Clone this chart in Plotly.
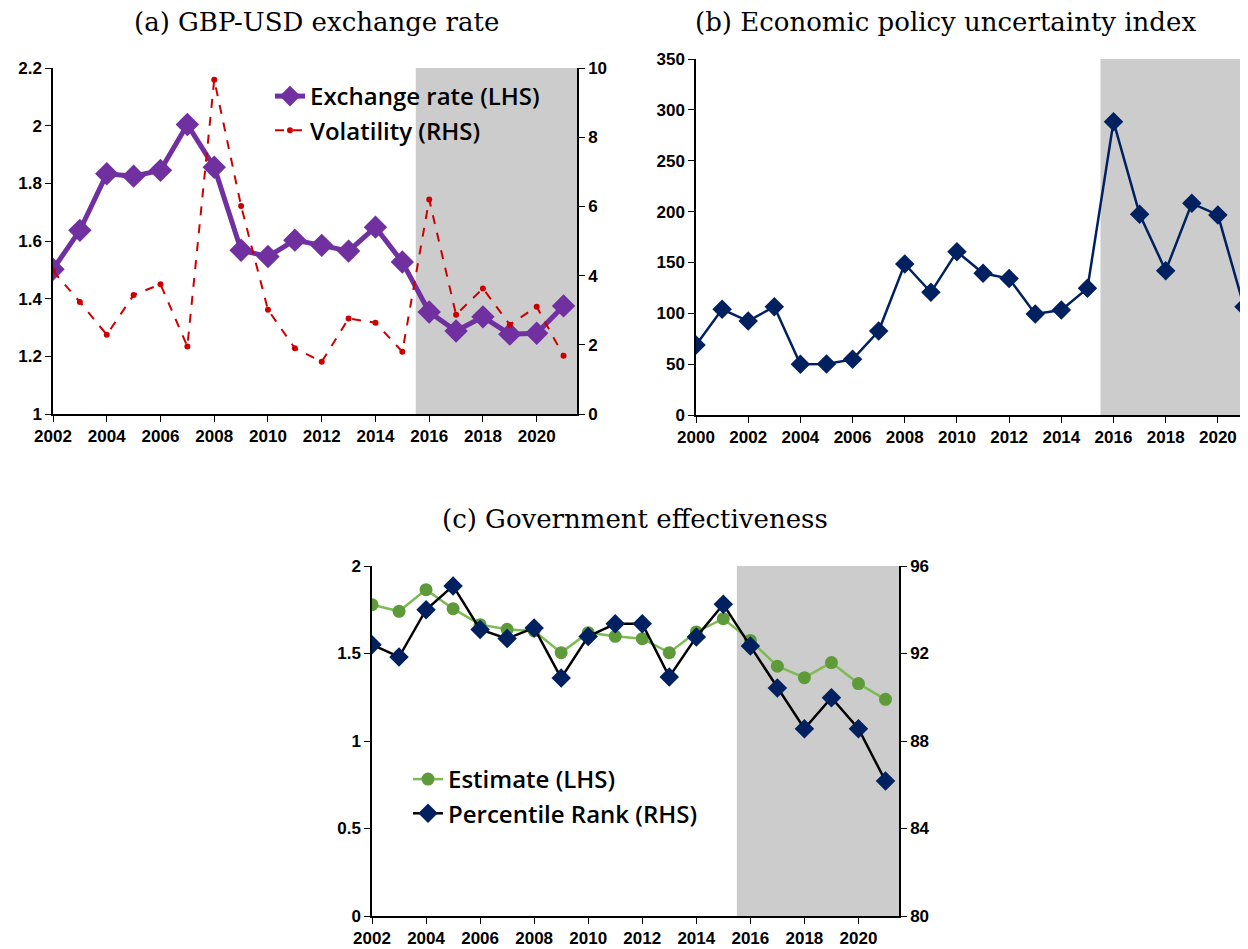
import plotly.graph_objects as go

# ---------------- data ----------------
years_a = list(range(2002, 2022))
exchange_rate = [1.502, 1.637, 1.833, 1.825, 1.845, 2.004, 1.856, 1.568, 1.546, 1.603,
                 1.585, 1.565, 1.648, 1.527, 1.354, 1.288, 1.337, 1.277, 1.280, 1.375]
volatility = [4.13, 3.24, 2.29, 3.44, 3.75, 1.95, 9.66, 6.01, 3.01, 1.90,
              1.51, 2.76, 2.64, 1.80, 6.20, 2.87, 3.63, 2.58, 3.10, 1.68]

years_b = list(range(2000, 2022))
epu = [68.8, 103.9, 92.4, 106.5, 49.8, 50.1, 54.7, 82.6, 148.5, 120.6, 160.6,
       139.3, 134.1, 99.3, 103.2, 124.5, 288.4, 197.3, 141.9, 208.1, 196.7, 106.5]

years_c = list(range(2002, 2022))
estimate = [1.779, 1.741, 1.865, 1.756, 1.665, 1.638, 1.629, 1.505, 1.619, 1.598,
            1.585, 1.505, 1.623, 1.699, 1.575, 1.427, 1.362, 1.448, 1.328, 1.238]
pct_rank = [92.40, 91.84, 94.00, 95.09, 93.10, 92.68, 93.17, 90.88, 92.78, 93.36,
            93.36, 90.93, 92.75, 94.25, 92.34, 90.42, 88.56, 89.98, 88.56, 86.17]

ticks_a = list(range(2002, 2021, 2))
ticks_b = list(range(2000, 2021, 2))
ticks_c = list(range(2002, 2021, 2))

shade_start = 2015.5
x_end_a = 2021.5
x_end_b = 2021
x_end_c = 2021.5

titles = ["(a) GBP-USD exchange rate", "(b) Economic policy uncertainty index",
          "(c) Government effectiveness"]

# ---------------- styling ----------------
W, H = 1248, 949
OFF = 8  # page body margin offset

def px(x):
    return (x - OFF) / W

def py(y):
    return 1 - (y - OFF) / H

PURPLE = "#7030A0"
RED = "#CC0000"
NAVY = "#002060"
GREEN_M = "#5E9A3A"
GREEN_L = "#7DBB55"
GREY = "#CCCCCC"

tickfont = dict(family="Liberation Sans, Arial", size=17, color="black", weight="bold")
legfont = dict(family="Open Sans", size=24, color="black", weight=600)
titlefont = dict(family="DejaVu Serif", size=26, color="black")

def xax(domain, anchor, rng, ticks):
    return dict(domain=domain, anchor=anchor, range=rng, tickvals=ticks,
                ticktext=[str(t) for t in ticks], showline=True, linecolor="black",
                linewidth=1.5, ticks="outside", ticklen=6, tickcolor="black",
                showgrid=False, zeroline=False, tickfont=tickfont, fixedrange=True,
                automargin=False)

def yax(domain, anchor, rng, dtick, side="left", overlaying=None):
    d = dict(domain=domain, anchor=anchor, range=rng, dtick=dtick, tick0=rng[0],
             showline=True, linecolor="black", linewidth=1.5, ticks="outside",
             ticklen=6, tickcolor="black", showgrid=False, zeroline=False,
             tickfont=tickfont, side=side, fixedrange=True, automargin=False)
    if overlaying:
        d["overlaying"] = overlaying
    return d

fig = go.Figure()

# Panel (a)
fig.add_trace(go.Scatter(x=years_a, y=exchange_rate, name="Exchange rate (LHS)",
                         mode="lines+markers", xaxis="x", yaxis="y",
                         line=dict(color=PURPLE, width=5),
                         marker=dict(symbol="diamond", size=18, color=PURPLE),
                         legend="legend"))
fig.add_trace(go.Scatter(x=years_a, y=volatility, name="Volatility (RHS)",
                         mode="lines+markers", xaxis="x", yaxis="y2",
                         line=dict(color=RED, width=2, dash="dash"),
                         marker=dict(symbol="circle", size=6, color=RED),
                         legend="legend"))

# Panel (b)
fig.add_trace(go.Scatter(x=years_b, y=epu, name="EPU", mode="lines+markers",
                         xaxis="x2", yaxis="y3", showlegend=False,
                         line=dict(color=NAVY, width=2.5),
                         marker=dict(symbol="diamond", size=15, color=NAVY)))

# Panel (c)
fig.add_trace(go.Scatter(x=years_c, y=estimate, name="Estimate (LHS)",
                         mode="lines+markers", xaxis="x3", yaxis="y4",
                         line=dict(color=GREEN_L, width=2.5),
                         marker=dict(symbol="circle", size=13, color=GREEN_M),
                         legend="legend2"))
fig.add_trace(go.Scatter(x=years_c, y=pct_rank, name="Percentile Rank (RHS)",
                         mode="lines+markers", xaxis="x3", yaxis="y5",
                         line=dict(color="black", width=2.5),
                         marker=dict(symbol="diamond", size=15, color=NAVY),
                         legend="legend2"))

dom_a_x = [px(53), px(577)]
dom_a_y = [py(414), py(68)]
dom_b_x = [px(696), px(1244)]
dom_b_y = [py(415), py(59)]
dom_c_x = [px(372), px(899)]
dom_c_y = [py(916), py(566)]

shapes = [
    dict(type="rect", xref="x", yref="y domain", x0=shade_start, x1=x_end_a, y0=0, y1=1,
         fillcolor=GREY, line=dict(width=0), layer="below"),
    dict(type="rect", xref="x2", yref="y3 domain", x0=shade_start, x1=x_end_b, y0=0, y1=1,
         fillcolor=GREY, line=dict(width=0), layer="below"),
    dict(type="rect", xref="x3", yref="y4 domain", x0=shade_start, x1=x_end_c, y0=0, y1=1,
         fillcolor=GREY, line=dict(width=0), layer="below"),
]

annotations = [
    dict(text=titles[0], x=px(316), y=py(22), xref="paper", yref="paper",
         showarrow=False, font=titlefont, xanchor="center", yanchor="middle"),
    dict(text=titles[1], x=px(945), y=py(22), xref="paper", yref="paper",
         showarrow=False, font=titlefont, xanchor="center", yanchor="middle"),
    dict(text=titles[2], x=px(635), y=py(519), xref="paper", yref="paper",
         showarrow=False, font=titlefont, xanchor="center", yanchor="middle"),
]

fig.update_layout(
    width=W, height=H, margin=dict(l=0, r=0, t=0, b=0, autoexpand=False),
    paper_bgcolor="white", plot_bgcolor="white",
    xaxis=xax(dom_a_x, "y", [2002, x_end_a], ticks_a),
    yaxis=yax(dom_a_y, "x", [1, 2.2], 0.2),
    yaxis2=yax(dom_a_y, "x", [0, 10], 2, side="right", overlaying="y"),
    xaxis2=xax(dom_b_x, "y3", [2000, x_end_b], ticks_b),
    yaxis3=yax(dom_b_y, "x2", [0, 350], 50),
    xaxis3=xax(dom_c_x, "y4", [2002, x_end_c], ticks_c),
    yaxis4=yax(dom_c_y, "x3", [0, 2], 0.5),
    yaxis5=yax(dom_c_y, "x3", [80, 96], 4, side="right", overlaying="y4"),
    shapes=shapes, annotations=annotations,
    legend=dict(x=px(270), y=py(74), xanchor="left", yanchor="top",
                bgcolor="rgba(0,0,0,0)", font=legfont, tracegroupgap=0,
                itemwidth=30),
    legend2=dict(x=px(408), y=py(757), xanchor="left", yanchor="top",
                 bgcolor="rgba(0,0,0,0)", font=legfont, tracegroupgap=0,
                 itemwidth=30),
    showlegend=True,
)

fig.write_html("out.html")
